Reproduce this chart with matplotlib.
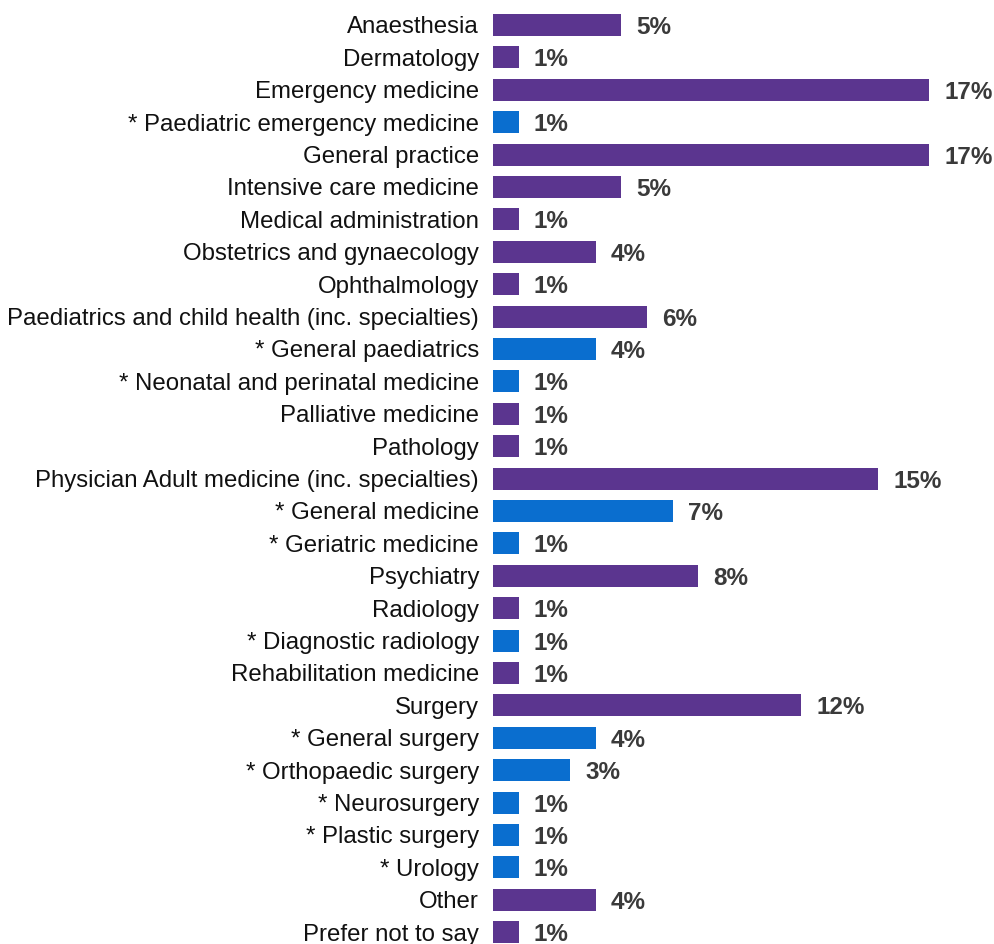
import matplotlib.pyplot as plt

specialties = [
    "Anaesthesia",
    "Dermatology",
    "Emergency medicine",
    "* Paediatric emergency medicine",
    "General practice",
    "Intensive care medicine",
    "Medical administration",
    "Obstetrics and gynaecology",
    "Ophthalmology",
    "Paediatrics and child health (inc. specialties)",
    "* General paediatrics",
    "* Neonatal and perinatal medicine",
    "Palliative medicine",
    "Pathology",
    "Physician Adult medicine (inc. specialties)",
    "* General medicine",
    "* Geriatric medicine",
    "Psychiatry",
    "Radiology",
    "* Diagnostic radiology",
    "Rehabilitation medicine",
    "Surgery",
    "* General surgery",
    "* Orthopaedic surgery",
    "* Neurosurgery",
    "* Plastic surgery",
    "* Urology",
    "Other",
    "Prefer not to say",
]
percent = [5, 1, 17, 1, 17, 5, 1, 4, 1, 6, 4, 1, 1, 1, 15, 7, 1, 8, 1, 1, 1, 12, 4, 3, 1, 1, 1, 4, 1]

PURPLE = "#5b358f"
BLUE = "#0a6ecf"

plt.rcParams["font.family"] = ["Liberation Sans", "DejaVu Sans"]

fig = plt.figure(figsize=(9.94, 9.44), dpi=100)
ax = fig.add_axes([493 / 994, 0, 501 / 994, 1])

rows = list(range(len(specialties)))
colors = [BLUE if s.startswith("*") else PURPLE for s in specialties]
ax.barh(rows, percent, height=0.68, color=colors)

for r, v in zip(rows, percent):
    ax.annotate(f"{v}%", (v, r), xytext=(11, 0), textcoords="offset points",
                va="center_baseline", ha="left", fontsize=17.5, fontweight="bold",
                color="#3a3a3a")

ax.set_yticks(rows)
ax.set_yticklabels(specialties, fontsize=17.3, color="#111111")
ax.tick_params(axis="y", length=0, pad=10)
ax.set_xticks([])
ax.set_xlim(0, 501 / 25.65)
ax.set_ylim((944 - 25) / 32.4, -25 / 32.4)
for sp in ax.spines.values():
    sp.set_visible(False)

fig.savefig("out.png", dpi=100)
